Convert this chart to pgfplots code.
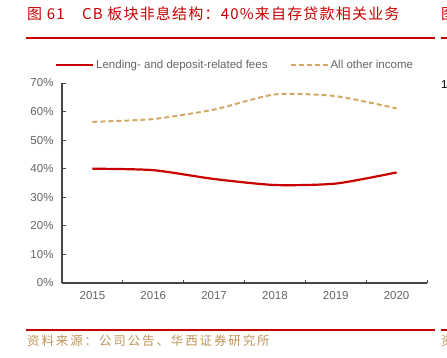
\documentclass[border=0pt]{standalone}
\usepackage{fontspec}
\setmainfont{Liberation Sans}
\newfontfamily\cjktitle{Noto Sans CJK SC}[LetterSpace=8]
\newfontfamily\cjksrc{Noto Sans CJK SC}[LetterSpace=15]
\usepackage{pgfplots}
\pgfplotsset{compat=1.18}
\definecolor{hxred}{RGB}{200,0,0}
\definecolor{tanc}{RGB}{212,168,98}
\definecolor{srcc}{RGB}{190,150,90}
\definecolor{lbl}{RGB}{100,100,100}
\definecolor{axc}{RGB}{70,70,70}

\pgfplotstableread{
x lend other
0 40.0 56.4
1 39.5 57.4
2 36.4 60.7
3 34.3 66.0
4 34.8 65.4
5 38.7 61.1
}\datatab

\begin{document}
\begin{tikzpicture}[x=1bp,y=1bp]
\clip (0,0) rectangle (447,357);
% title
\node[anchor=west, text=hxred, font=\cjktitle\fontsize{15bp}{18bp}\selectfont, inner sep=0] at (27,343) {图 61};
\node[anchor=west, text=hxred, font=\cjktitle\fontsize{15bp}{18bp}\selectfont, inner sep=0] at (82,343) {CB 板块非息结构：40\%来自存贷款相关业务};
\node[anchor=west, text=hxred, font=\cjktitle\fontsize{15bp}{18bp}\selectfont, inner sep=0] at (441,343) {图};
\draw[hxred, line width=2bp] (26,319) -- (435,319);
\draw[hxred, line width=2bp] (441,319) -- (450,319);
\draw[hxred, line width=2bp] (26,27) -- (435,27);
\draw[hxred, line width=2bp] (441,27) -- (450,27);
\node[anchor=west, text=srcc, font=\cjksrc\fontsize{12.5bp}{15bp}\selectfont, inner sep=0] at (27,16) {资料来源：公司公告、华西证券研究所};
\node[anchor=west, text=srcc, font=\cjksrc\fontsize{12.5bp}{15bp}\selectfont, inner sep=0] at (441,16) {资};
\node[anchor=west, text=black, font=\fontsize{11.5bp}{13bp}\selectfont, inner sep=0] at (441,272) {1};

\begin{axis}[
  at={(62bp,74bp)}, anchor=south west,
  scale only axis, width=365bp, height=200bp,
  xmin=-0.5, xmax=5.5, ymin=0, ymax=70,
  axis x line=bottom, axis y line=left,
  axis line style={-, axc, line width=1.2bp},
  xtick={0,1,2,3,4,5},
  xticklabels={2015,2016,2017,2018,2019,2020},
  minor xtick={-0.5,0.5,1.5,2.5,3.5,4.5,5.5},
  major x tick style={draw=none},
  minor tick length=3.5bp,
  ytick={0,10,20,30,40,50,60,70},
  yticklabel={\pgfmathprintnumber{\tick}\%},
  major tick length=3.5bp,
  tick align=inside,
  tick style={axc, line width=1bp},
  /pgf/number format/assume math mode=true,
  ticklabel style={font=\fontsize{11.5bp}{13bp}\selectfont, text=lbl},
  xticklabel style={yshift=-5bp},
  yticklabel style={xshift=-5bp},
  legend columns=2,
  legend style={at={(0.474,1.09)}, anchor=center, draw=none, fill=none,
    font=\fontsize{11.5bp}{13bp}\selectfont, text=lbl,
    nodes={inner sep=2bp},
    /tikz/every even column/.append style={column sep=20bp}},
  legend image code/.code={\draw[#1] (0bp,0bp) -- (37bp,0bp);},
  clip=false,
]
\addplot[hxred, line width=2.2bp, smooth, tension=0.4] table[x=x,y=lend] {\datatab};
\addlegendentry{Lending- and deposit-related fees}
\addplot[tanc, line width=2bp, dash pattern=on 5bp off 3bp, smooth, tension=0.4] table[x=x,y=other] {\datatab};
\addlegendentry{All other income}
\end{axis}
\end{tikzpicture}
\end{document}
